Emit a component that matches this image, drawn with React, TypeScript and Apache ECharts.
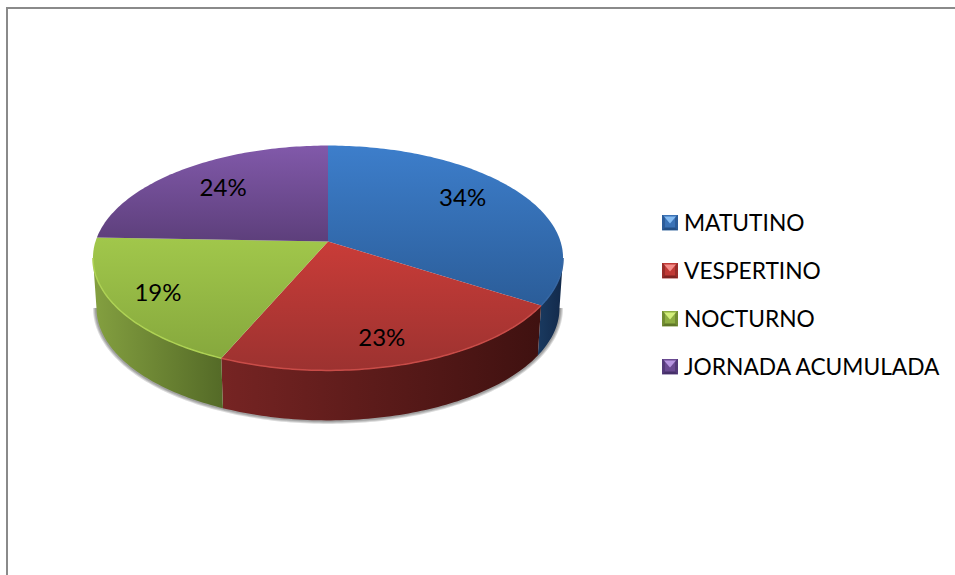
import React, { useEffect, useRef } from "react";
import * as echarts from "echarts";

const CATEGORIES = ["MATUTINO", "VESPERTINO", "NOCTURNO", "JORNADA ACUMULADA"];
const VALUES = [34.0, 22.5, 19.1, 24.4];

const TOP_COLORS = [
  ["#3d7ecb", "#2b5d99"],
  ["#c93c38", "#9c3230"],
  ["#a1c74b", "#86a83d"],
  ["#8159aa", "#5d3f7b"],
];
const WALL_COLORS = [
  ["#1a3a60", "#12294a"],
  ["#762423", "#3f1110"],
  ["#84a040", "#546a27"],
  ["#5d3f7b", "#3f2a55"],
];
const RIM_COLORS = ["#3566a3", "#c94c48", "#aed254", "#8159aa"];
const LEGEND_COLORS = [
  ["#86bcf2", "#3a72b6", "#234f85"],
  ["#f58c88", "#c03a36", "#7f2523"],
  ["#d4ef7c", "#8eae42", "#5f7728"],
  ["#b795e0", "#6a4a92", "#46306a"],
];
const LABEL_NUDGE = [
  [-5, -9],
  [-1, 11],
  [-20, 5],
  [3, -2],
];
const SHADOW_WIDTHS = [7, 5, 3];

const FONT = "Lato";
const CX = 328;
const CY = 241.5;
const RX = 232.5;
const RY = 110;
const K = 0.1467;
const DEPTH = 50;
const BOTTOM_SCALE = 0.985;
const SIL_R = 98.4;
const SIL_L = 261.6;
const LABEL_R = 0.72;

const total = VALUES.reduce((a, b) => a + b, 0);
const startOf = (i: number) =>
  (VALUES.slice(0, i).reduce((a, b) => a + b, 0) / total) * 360;
const endOf = (i: number) => startOf(i) + (VALUES[i] / total) * 360;

function project(deg: number, r = 1): [number, number] {
  const a = (deg * Math.PI) / 180;
  const u = Math.sin(a) * r;
  const v = -Math.cos(a) * r;
  const w = 1 - K * v;
  return [CX + (RX * u) / w, CY + (RY * v) / w];
}
function lowered(deg: number): [number, number] {
  const [x, y] = project(deg);
  return [CX + (x - CX) * BOTTOM_SCALE, y + DEPTH];
}
function arc(a0: number, a1: number, fn: (d: number) => [number, number]) {
  const pts: [number, number][] = [];
  const n = Math.max(2, Math.ceil(Math.abs(a1 - a0)));
  for (let i = 0; i <= n; i++) pts.push(fn(a0 + ((a1 - a0) * i) / n));
  return pts;
}
const grad = (c: string[], horizontal: boolean) => ({
  type: "linear",
  x: 0,
  y: 0,
  x2: horizontal ? 1 : 0,
  y2: horizontal ? 0 : 1,
  colorStops: c.map((color, i) => ({ offset: i / (c.length - 1), color })),
});
function bevelIcon(c: string[]) {
  const [light, mid, dark] = c;
  const svg =
    `<svg xmlns="http://www.w3.org/2000/svg" width="16" height="16" viewBox="0 0 16 16">` +
    `<rect width="16" height="16" fill="${mid}"/>` +
    `<polygon points="0,16 16,16 13,13 3,13" fill="${dark}"/>` +
    `<polygon points="0,0 0,16 3,13 3,3" fill="${dark}" opacity="0.6"/>` +
    `<polygon points="16,0 16,16 13,13 13,3" fill="${dark}" opacity="0.6"/>` +
    `<polygon points="2,2 14,2 8,9" fill="${light}"/>` +
    `</svg>`;
  return "image://data:image/svg+xml;charset=utf-8," + encodeURIComponent(svg);
}

function buildOption() {
  const shadow = {
    type: "custom",
    coordinateSystem: "none",
    silent: true,
    z: 1,
    data: [[0]],
    renderItem: () => ({
      type: "group",
      children: SHADOW_WIDTHS.map((lineWidth) => ({
        type: "polyline",
        shape: { points: arc(SIL_R, SIL_L, lowered) },
        style: { fill: "none", stroke: "rgba(0,0,0,0.14)", lineWidth },
      })),
    }),
  };
  const walls = CATEGORIES.map((name, i) => ({
    type: "custom",
    name,
    coordinateSystem: "none",
    silent: true,
    z: 2,
    itemStyle: { color: LEGEND_COLORS[i][1] },
    data: [[VALUES[i]]],
    renderItem: () => {
      const a0 = Math.max(startOf(i), SIL_R);
      const a1 = Math.min(endOf(i), SIL_L);
      if (a1 <= a0) return { type: "group", children: [] };
      return {
        type: "polygon",
        shape: { points: [...arc(a0, a1, project), ...arc(a1, a0, lowered)] },
        style: { fill: grad(WALL_COLORS[i], true) },
      };
    },
  }));
  const tops = CATEGORIES.map((name, i) => ({
    type: "custom",
    name,
    coordinateSystem: "none",
    silent: true,
    z: 3,
    itemStyle: { color: LEGEND_COLORS[i][1] },
    data: [[VALUES[i]]],
    renderItem: (_p: unknown, api: any) => {
      const pct = (api.value(0) / total) * 100;
      const a0 = startOf(i);
      const a1 = endOf(i);
      const [lx, ly] = project((a0 + a1) / 2, LABEL_R);
      const children: any[] = [
        {
          type: "polygon",
          shape: { points: [project(0, 0), ...arc(a0, a1, project)] },
          style: { fill: grad(TOP_COLORS[i], false) },
        },
      ];
      const r0 = Math.max(a0, SIL_R);
      const r1 = Math.min(a1, SIL_L);
      if (r1 > r0) {
        children.push({
          type: "polyline",
          shape: { points: arc(r0, r1, project) },
          style: { fill: "none", stroke: RIM_COLORS[i], lineWidth: 1.5 },
        });
      }
      children.push({
        type: "text",
        x: lx + LABEL_NUDGE[i][0],
        y: ly + LABEL_NUDGE[i][1],
        style: {
          text: `${Math.round(pct)}%`,
          fill: "#000",
          font: `24px ${FONT}`,
          align: "center",
          verticalAlign: "middle",
        },
      });
      return { type: "group", children };
    },
  }));
  return {
    animation: false,
    backgroundColor: "#fff",
    legend: {
      data: CATEGORIES.map((name, i) => ({ name, icon: bevelIcon(LEGEND_COLORS[i]) })),
      orient: "vertical",
      left: 662,
      top: 211,
      itemWidth: 16,
      itemHeight: 16,
      itemGap: 25,
      selectedMode: false,
      padding: 0,
      textStyle: {
        color: "#000",
        fontFamily: FONT,
        fontSize: 22.75,
        padding: [0, 0, 0, 1],
      },
    },
    graphic: [
      {
        type: "rect",
        silent: true,
        shape: { x: 7, y: 8, width: 1000, height: 700 },
        style: { fill: "none", stroke: "#8a8a8a", lineWidth: 2 },
      },
    ],
    series: [shadow, ...walls, ...tops],
  };
}

export default function App() {
  const ref = useRef<HTMLDivElement>(null);
  useEffect(() => {
    document.body.style.margin = "0";
    const chart = echarts.init(ref.current!, undefined, { renderer: "svg" });
    chart.setOption(buildOption() as any);
    return () => chart.dispose();
  }, []);
  return <div ref={ref} style={{ width: 955, height: 575, overflow: "hidden" }} />;
}
